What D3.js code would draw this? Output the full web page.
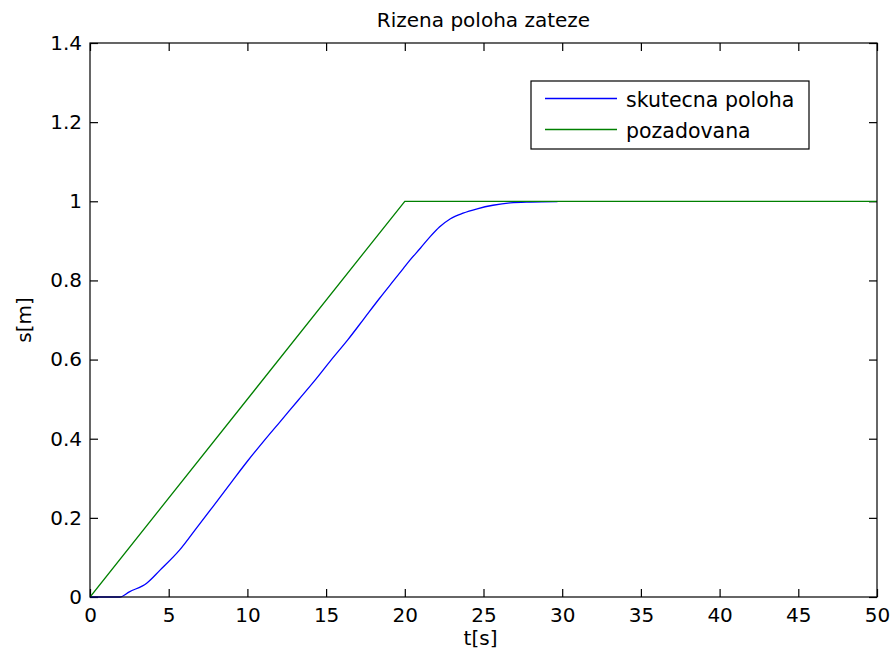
<!DOCTYPE html>
<html>
<head>
<meta charset="utf-8">
<script src="https://cdn.jsdelivr.net/npm/d3@7"></script>
<style>
  html, body { margin: 0; padding: 0; background: #fff; }
  svg { display: block; }
  text { font-family: "DejaVu Sans", "Liberation Sans", Arial, sans-serif; fill: #000; }
</style>
</head>
<body>
<script>
// Requested position (ramp to 1 m over 20 s, then hold)
const refTime = [0, 20, 50];
const refPos = [0, 1, 1];

// Measured load position
const actTime = [0, 1.9, 2.5, 3.6, 4.45, 5.7, 6.8, 7.8, 9.0, 10.0, 11.0, 12.1, 13.2, 14.3, 15.3, 16.4,
  17.4, 18.4, 19.3, 19.9, 20.3, 21.0, 21.6, 22.2, 22.9, 23.7, 24.6, 25.6, 26.7, 28.0, 29.7];
const actPos = [0, 0, 0.013, 0.035, 0.068, 0.119, 0.176, 0.228, 0.291, 0.343, 0.392, 0.444, 0.496, 0.548, 0.598, 0.651,
  0.703, 0.755, 0.800, 0.830, 0.850, 0.882, 0.910, 0.935, 0.956, 0.970, 0.981, 0.990, 0.996, 0.998, 0.999];

const xTickValues = [0, 5, 10, 15, 20, 25, 30, 35, 40, 45, 50];
const xTickLabels = ["0", "5", "10", "15", "20", "25", "30", "35", "40", "45", "50"];
const yTickValues = [0, 0.2, 0.4, 0.6, 0.8, 1, 1.2, 1.4];
const yTickLabels = ["0", "0.2", "0.4", "0.6", "0.8", "1", "1.2", "1.4"];

const seriesNames = ["skutecna poloha", "pozadovana"];
const seriesColors = ["#0000ff", "#008000"];

const W = 893, H = 658;
const plot = { left: 90, right: 877, top: 43, bottom: 597 };
const tickLen = 8;
const fontSize = 20;

const svg = d3.select("body").append("svg").attr("width", W).attr("height", H);
svg.append("rect").attr("width", W).attr("height", H).attr("fill", "#fff");

const x = d3.scaleLinear().domain([0, 50]).range([plot.left, plot.right]);
const y = d3.scaleLinear().domain([0, 1.4]).range([plot.bottom, plot.top]);

const xFmt = (d) => xTickLabels[xTickValues.indexOf(d)];
const yFmt = (d) => yTickLabels[yTickValues.indexOf(d)];

function styleAxis(g) {
  g.select(".domain").remove();
  g.selectAll(".tick line").attr("stroke", "#000").attr("stroke-width", 1.2);
  g.selectAll(".tick text").attr("font-size", fontSize).attr("fill", "#000");
  g.attr("font-family", null);
}

// Bottom axis with labels, ticks pointing inward
svg.append("g").attr("transform", `translate(0,${plot.bottom})`)
  .call(d3.axisBottom(x).tickValues(xTickValues).tickFormat(xFmt)
    .tickSizeInner(-tickLen).tickSizeOuter(0).tickPadding(10.8))
  .call(styleAxis);
// Top mirror ticks
svg.append("g").attr("transform", `translate(0,${plot.top})`)
  .call(d3.axisTop(x).tickValues(xTickValues).tickFormat("")
    .tickSizeInner(-tickLen).tickSizeOuter(0))
  .call(styleAxis);
// Left axis with labels
svg.append("g").attr("transform", `translate(${plot.left},0)`)
  .call(d3.axisLeft(y).tickValues(yTickValues).tickFormat(yFmt)
    .tickSizeInner(-tickLen).tickSizeOuter(0).tickPadding(8))
  .call(styleAxis);
// Right mirror ticks
svg.append("g").attr("transform", `translate(${plot.right},0)`)
  .call(d3.axisRight(y).tickValues(yTickValues).tickFormat("")
    .tickSizeInner(-tickLen).tickSizeOuter(0))
  .call(styleAxis);

// Data lines, clipped to the axes box
svg.append("clipPath").attr("id", "plotClip").append("rect")
  .attr("x", plot.left).attr("y", plot.top - 1)
  .attr("width", plot.right - plot.left).attr("height", plot.bottom - plot.top + 2);

const smoothLine = d3.line().x((d) => x(d[0])).y((d) => y(d[1])).curve(d3.curveMonotoneX);
const straightLine = d3.line().x((d) => x(d[0])).y((d) => y(d[1]));
const actData = actTime.map((t, i) => [t, actPos[i]]);
const refData = refTime.map((t, i) => [t, refPos[i]]);

const lines = svg.append("g").attr("clip-path", "url(#plotClip)");
lines.append("path").datum(actData).attr("d", smoothLine)
  .attr("fill", "none").attr("stroke", seriesColors[0]).attr("stroke-width", 1.3);
lines.append("path").datum(refData).attr("d", straightLine)
  .attr("fill", "none").attr("stroke", seriesColors[1]).attr("stroke-width", 1.3);

// Axes box
svg.append("rect")
  .attr("x", plot.left).attr("y", plot.top)
  .attr("width", plot.right - plot.left).attr("height", plot.bottom - plot.top)
  .attr("fill", "none").attr("stroke", "#000").attr("stroke-width", 1.2);

// Title and axis labels
svg.append("text").attr("x", (plot.left + plot.right) / 2).attr("y", 27)
  .attr("text-anchor", "middle").attr("font-size", fontSize).text("Rizena poloha zateze");
svg.append("text").attr("x", (plot.left + plot.right) / 2 - 3).attr("y", 645)
  .attr("text-anchor", "middle").attr("font-size", fontSize).text("t[s]");
svg.append("text")
  .attr("transform", `translate(31,${(plot.top + plot.bottom) / 2}) rotate(-90)`)
  .attr("text-anchor", "middle").attr("font-size", fontSize).text("s[m]");

// Legend
const legend = { x: 531, y: 81, w: 278, h: 68 };
const lg = svg.append("g");
lg.append("rect").attr("x", legend.x).attr("y", legend.y)
  .attr("width", legend.w).attr("height", legend.h)
  .attr("fill", "#fff").attr("stroke", "#000").attr("stroke-width", 1.2);
const rowY = [98.5, 129.5];
seriesNames.forEach((name, i) => {
  lg.append("line").attr("x1", 545).attr("x2", 617).attr("y1", rowY[i]).attr("y2", rowY[i])
    .attr("stroke", seriesColors[i]).attr("stroke-width", 1.3);
  lg.append("text").attr("x", 626).attr("y", rowY[i] + 8)
    .attr("font-size", 20.5).text(name);
});
</script>
</body>
</html>
